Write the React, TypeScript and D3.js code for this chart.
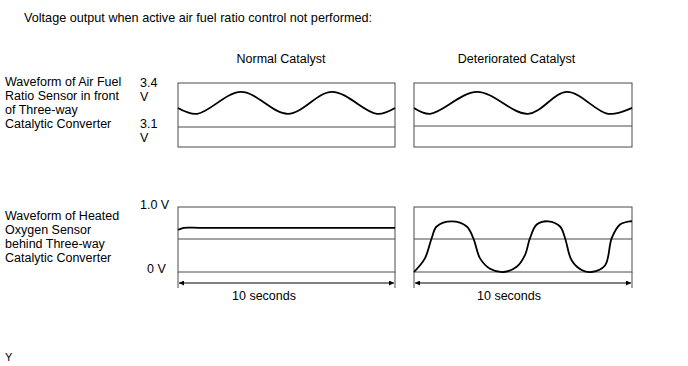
import React from 'react';
import * as d3 from 'd3';

// time axis (seconds) and sensor voltages
const timeSpan = [0, 10];
const afVoltRange = [3.1, 3.4];
const o2VoltRange = [0, 1.0];

const afNormalT = [0, 0.88, 2.9, 5.07, 7.1, 9.17, 10];
const afNormalV = [3.23, 3.19, 3.34, 3.19, 3.34, 3.19, 3.23];

const afDetT = [0, 0.73, 2.89, 5.23, 7.02, 8.9, 10];
const afDetV = [3.23, 3.19, 3.34, 3.19, 3.34, 3.19, 3.23];

const o2NormalT = [0, 0.1, 0.28, 1, 5, 10];
const o2NormalV = [0.65, 0.66, 0.68, 0.68, 0.68, 0.68];

const o2DetT = [0, 0.5, 0.81, 1.04, 1.73, 2.42, 2.72, 3.03, 3.49, 4.1, 4.71, 5.09, 5.32, 5.63, 6.16, 6.7, 6.93, 7.23, 7.69, 8.15, 8.76, 9.07, 9.45, 9.91, 10];
const o2DetV = [0, 0.21, 0.52, 0.7, 0.78, 0.7, 0.52, 0.21, 0.05, 0, 0.08, 0.26, 0.52, 0.73, 0.78, 0.7, 0.52, 0.18, 0.03, 0, 0.1, 0.52, 0.73, 0.78, 0.78];

const title = 'Voltage output when active air fuel ratio control not performed:';
const columnTitles = ['Normal Catalyst', 'Deteriorated Catalyst'];
const rowLabels = [
  ['Waveform of Air Fuel', 'Ratio Sensor in front', 'of Three-way', 'Catalytic Converter'],
  ['Waveform of Heated', 'Oxygen Sensor', 'behind Three-way', 'Catalytic Converter'],
];
const durationLabel = '10 seconds';

const font = '"Liberation Sans", Arial, sans-serif';
const frameColor = '#4a4a4a';
const fs = 12.5;

const zip = (t: number[], v: number[]) => t.map((d, i) => ({ t: d, v: v[i] }));

function Panel({ x0, x1, yTop, yMid, yBot, vals, yScaleDomain, yScaleRange, arrow, labelX }: any) {
  const x = d3.scaleLinear().domain(timeSpan).range([x0, x1]);
  const y = d3.scaleLinear().domain(yScaleDomain).range(yScaleRange);
  const line = d3.line<any>().x((d) => x(d.t)).y((d) => y(d.v)).curve(d3.curveCatmullRom.alpha(0.5));
  return (
    <g>
      <rect x={x0} y={yTop} width={x1 - x0} height={yBot - yTop} fill="none" stroke={frameColor} strokeWidth={1} />
      <line x1={x0} x2={x1} y1={yMid} y2={yMid} stroke={frameColor} strokeWidth={1} />
      <path d={line(vals) || ''} fill="none" stroke="#000" strokeWidth={1.8} />
      {arrow && (
        <g>
          <line x1={x0} x2={x0} y1={yBot} y2={yBot + 16} stroke={frameColor} />
          <line x1={x1} x2={x1} y1={yBot} y2={yBot + 16} stroke={frameColor} />
          <line x1={x0 + 1} x2={x1 - 1} y1={yBot + 11} y2={yBot + 11} stroke="#000" strokeWidth={1}
            markerStart="url(#arrowL)" markerEnd="url(#arrowR)" />
          <text x={labelX} y={yBot + 28} textAnchor="middle" fontSize={fs} fontFamily={font}>{durationLabel}</text>
        </g>
      )}
    </g>
  );
}

export default function App() {
  const cols = [
    [178, 395],
    [414, 632],
  ];
  return (
    <svg width={688} height={366} style={{ position: 'absolute', left: 0, top: 0, background: '#fff' }}>
      <defs>
        <marker id="arrowR" viewBox="0 0 10 10" refX={10} refY={5} markerWidth={7} markerHeight={5} markerUnits="userSpaceOnUse" orient="auto">
          <path d="M0,0 L10,5 L0,10 z" fill="#000" />
        </marker>
        <marker id="arrowL" viewBox="0 0 10 10" refX={0} refY={5} markerWidth={7} markerHeight={5} markerUnits="userSpaceOnUse" orient="auto">
          <path d="M10,0 L0,5 L10,10 z" fill="#000" />
        </marker>
      </defs>
      <g fontFamily={font} fill="#000">
        <text x={24} y={22} fontSize={12.6} textLength={348} lengthAdjust="spacingAndGlyphs">{title}</text>
        <text x={281} y={63} fontSize={fs} textAnchor="middle">{columnTitles[0]}</text>
        <text x={516.5} y={63} fontSize={fs} textAnchor="middle">{columnTitles[1]}</text>
        {rowLabels[0].map((s, i) => (
          <text key={'a' + i} x={5} y={86 + i * 14} fontSize={fs}>{s}</text>
        ))}
        {rowLabels[1].map((s, i) => (
          <text key={'b' + i} x={5} y={220 + i * 14} fontSize={fs}>{s}</text>
        ))}
        <text x={140} y={87} fontSize={fs}>3.4</text>
        <text x={140} y={101} fontSize={fs}>V</text>
        <text x={140} y={128} fontSize={fs}>3.1</text>
        <text x={140} y={142} fontSize={fs}>V</text>
        <text x={140} y={209} fontSize={fs}>1.0 V</text>
        <text x={147} y={273} fontSize={fs}>0 V</text>
        <text x={5} y={361} fontSize={11}>Y</text>
      </g>
      <Panel x0={cols[0][0]} x1={cols[0][1]} yTop={83} yMid={127} yBot={147}
        vals={zip(afNormalT, afNormalV)} yScaleDomain={afVoltRange} yScaleRange={[127, 83]} />
      <Panel x0={cols[1][0]} x1={cols[1][1]} yTop={83} yMid={126} yBot={147}
        vals={zip(afDetT, afDetV)} yScaleDomain={afVoltRange} yScaleRange={[127, 83]} />
      <Panel x0={cols[0][0]} x1={cols[0][1]} yTop={207} yMid={239} yBot={272}
        vals={zip(o2NormalT, o2NormalV)} yScaleDomain={o2VoltRange} yScaleRange={[272, 207]} arrow labelX={264} />
      <Panel x0={cols[1][0]} x1={cols[1][1]} yTop={207} yMid={239} yBot={272}
        vals={zip(o2DetT, o2DetV)} yScaleDomain={o2VoltRange} yScaleRange={[272, 207]} arrow labelX={509} />
    </svg>
  );
}
